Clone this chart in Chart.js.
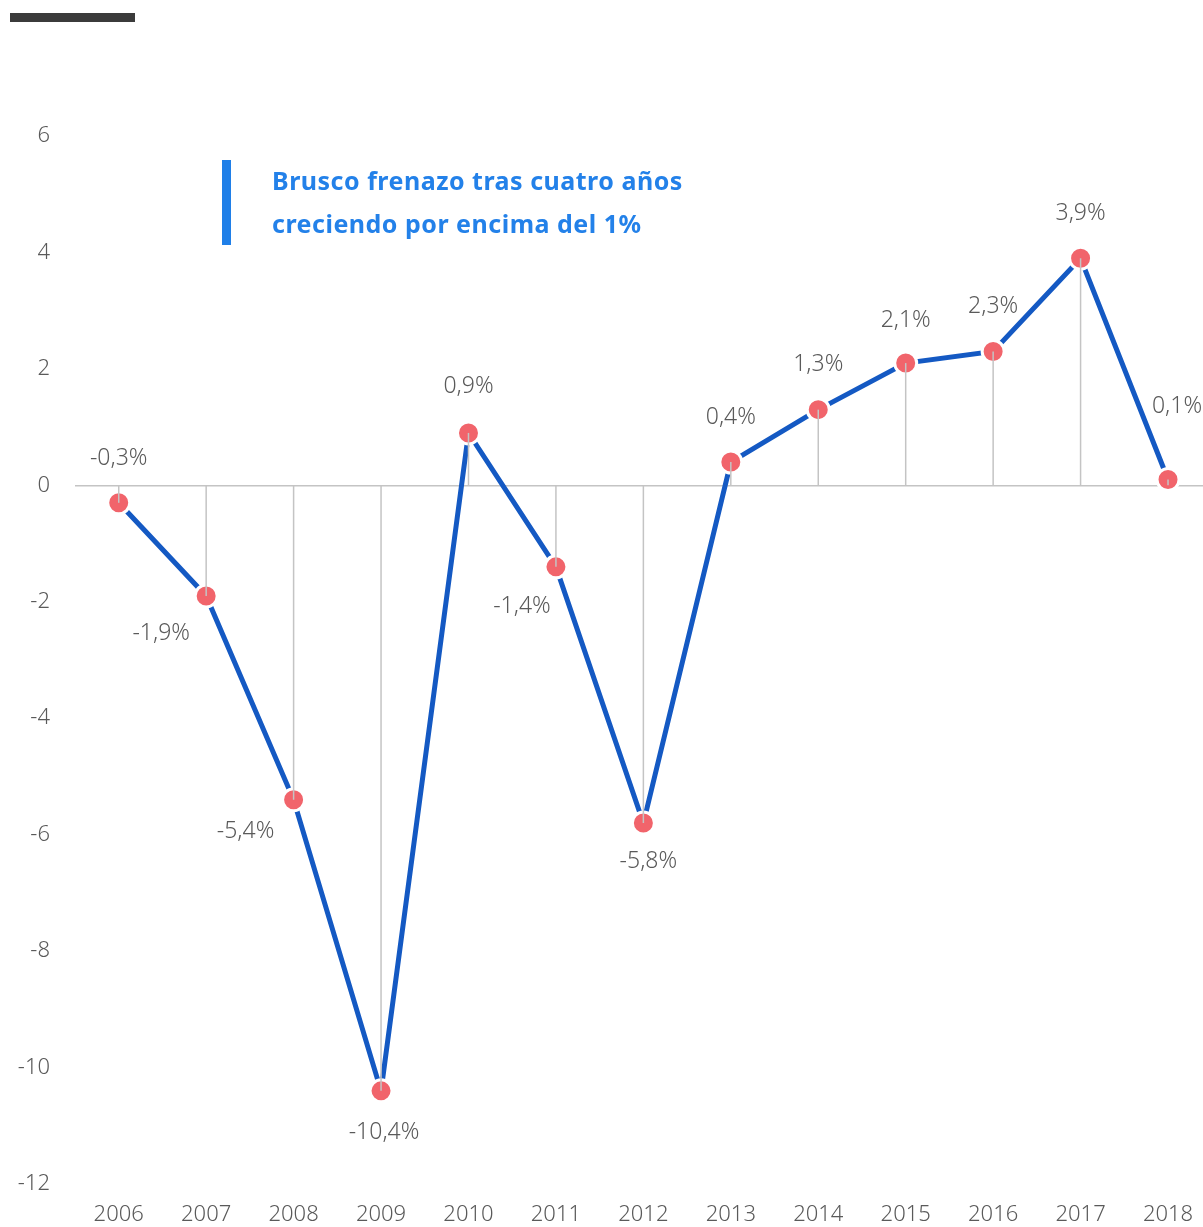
<!DOCTYPE html>
<html>
<head>
<meta charset="utf-8">
<script src="https://cdn.jsdelivr.net/npm/chart.js@4.4.1/dist/chart.umd.min.js"></script>
<style>
  body { margin: 0; background: #fff; }
  #wrap { position: relative; width: 1203px; height: 1227px; }
  #myChart { display: block; }
  .topbar { position: absolute; left: 10px; top: 13px; width: 125px; height: 9px; background: #3b3b3b; }
  .note { position: absolute; left: 222px; top: 160px; height: 85px; border-left: 9px solid #1f7fe8;
          padding-left: 41px; font-family: "Noto Sans", sans-serif; font-weight: 700;
          font-size: 25px; letter-spacing: 0.5px; line-height: 43px; color: #2381e9; }
  .note div { white-space: nowrap; }
</style>
</head>
<body>
<div id="wrap">
  <div class="topbar"></div>
  <canvas id="myChart" width="1203" height="1227"></canvas>
  <div class="note"><div style="margin-top:-1px">Brusco frenazo tras cuatro años</div><div>creciendo por encima del 1%</div></div>
</div>
<script>
// Datos del gráfico
const years = [2006, 2007, 2008, 2009, 2010, 2011, 2012, 2013, 2014, 2015, 2016, 2017, 2018];
const growth = [-0.3, -1.9, -5.4, -10.4, 0.9, -1.4, -5.8, 0.4, 1.3, 2.1, 2.3, 3.9, 0.1];
const yTicks = [-12, -10, -8, -6, -4, -2, 0, 2, 4, 6];

// Desplazamiento de cada etiqueta respecto a su punto (px)
const labelOffsets = [
  [0, -44], [-45, 37], [-48, 32], [3, 42], [0, -46], [-34, 40], [5, 38],
  [0, -45], [0, -45], [0, -43], [0, -45], [0, -45], [9, -73]
];

const FONT = '"Noto Sans", sans-serif';
const GREY = '#5a5a5a';

// Líneas verticales desde el cero y etiquetas de valor
const dropLines = {
  id: 'dropLines',
  afterDatasetsDraw(chart) {
    const ctx = chart.ctx;
    const zeroY = chart.scales.y.getPixelForValue(0);
    const meta = chart.getDatasetMeta(0);
    ctx.save();
    ctx.strokeStyle = '#c4c4c4';
    ctx.lineWidth = 1.5;
    meta.data.forEach(pt => {
      ctx.beginPath();
      ctx.moveTo(pt.x, zeroY);
      ctx.lineTo(pt.x, pt.y);
      ctx.stroke();
    });
    ctx.fillStyle = GREY;
    ctx.font = '300 23px ' + FONT;
    ctx.textAlign = 'center';
    ctx.textBaseline = 'middle';
    meta.data.forEach((pt, i) => {
      const txt = growth[i].toFixed(1).replace('.', ',') + '%';
      ctx.fillText(txt, pt.x + labelOffsets[i][0], pt.y + labelOffsets[i][1]);
    });
    ctx.restore();
  }
};

new Chart(document.getElementById('myChart'), {
  type: 'line',
  data: {
    datasets: [{
      data: years.map((y, i) => ({ x: y, y: growth[i] })),
      borderColor: '#1459c3',
      borderWidth: 5,
      tension: 0,
      pointRadius: 11,
      pointBackgroundColor: '#f1646b',
      pointBorderColor: '#ffffff',
      pointBorderWidth: 3,
      clip: false
    }]
  },
  options: {
    responsive: false,
    animation: false,
    layout: { autoPadding: false, padding: { top: 136, right: 0, bottom: 0, left: 0 } },
    plugins: { legend: { display: false }, tooltip: { enabled: false } },
    scales: {
      x: {
        type: 'linear',
        min: 2005.5,
        max: 2018.4,
        afterBuildTicks: scale => { scale.ticks = years.map(v => ({ value: v })); },
        afterFit: scale => {
          scale.height = 43;
          scale.paddingLeft = 0;
          scale.paddingRight = 0;
        },
        grid: { display: false, drawTicks: false },
        border: { display: false },
        ticks: {
          padding: 18,
          color: GREY,
          font: { family: FONT, size: 22, weight: 300 },
          maxRotation: 0,
          autoSkip: false,
          callback: v => String(v)
        }
      },
      y: {
        min: -12,
        max: 6,
        afterBuildTicks: scale => { scale.ticks = yTicks.map(v => ({ value: v })); },
        afterFit: scale => {
          scale.width = 75;
          scale.paddingTop = 0;
          scale.paddingBottom = 0;
        },
        grid: {
          drawTicks: false,
          color: ctx => ctx.tick && ctx.tick.value === 0 ? '#c4c4c4' : 'rgba(0,0,0,0)',
          lineWidth: 1.5
        },
        border: { display: false },
        ticks: {
          padding: 25,
          color: GREY,
          font: { family: FONT, size: 22, weight: 300 }
        }
      }
    }
  },
  plugins: [dropLines]
});
</script>
</body>
</html>
